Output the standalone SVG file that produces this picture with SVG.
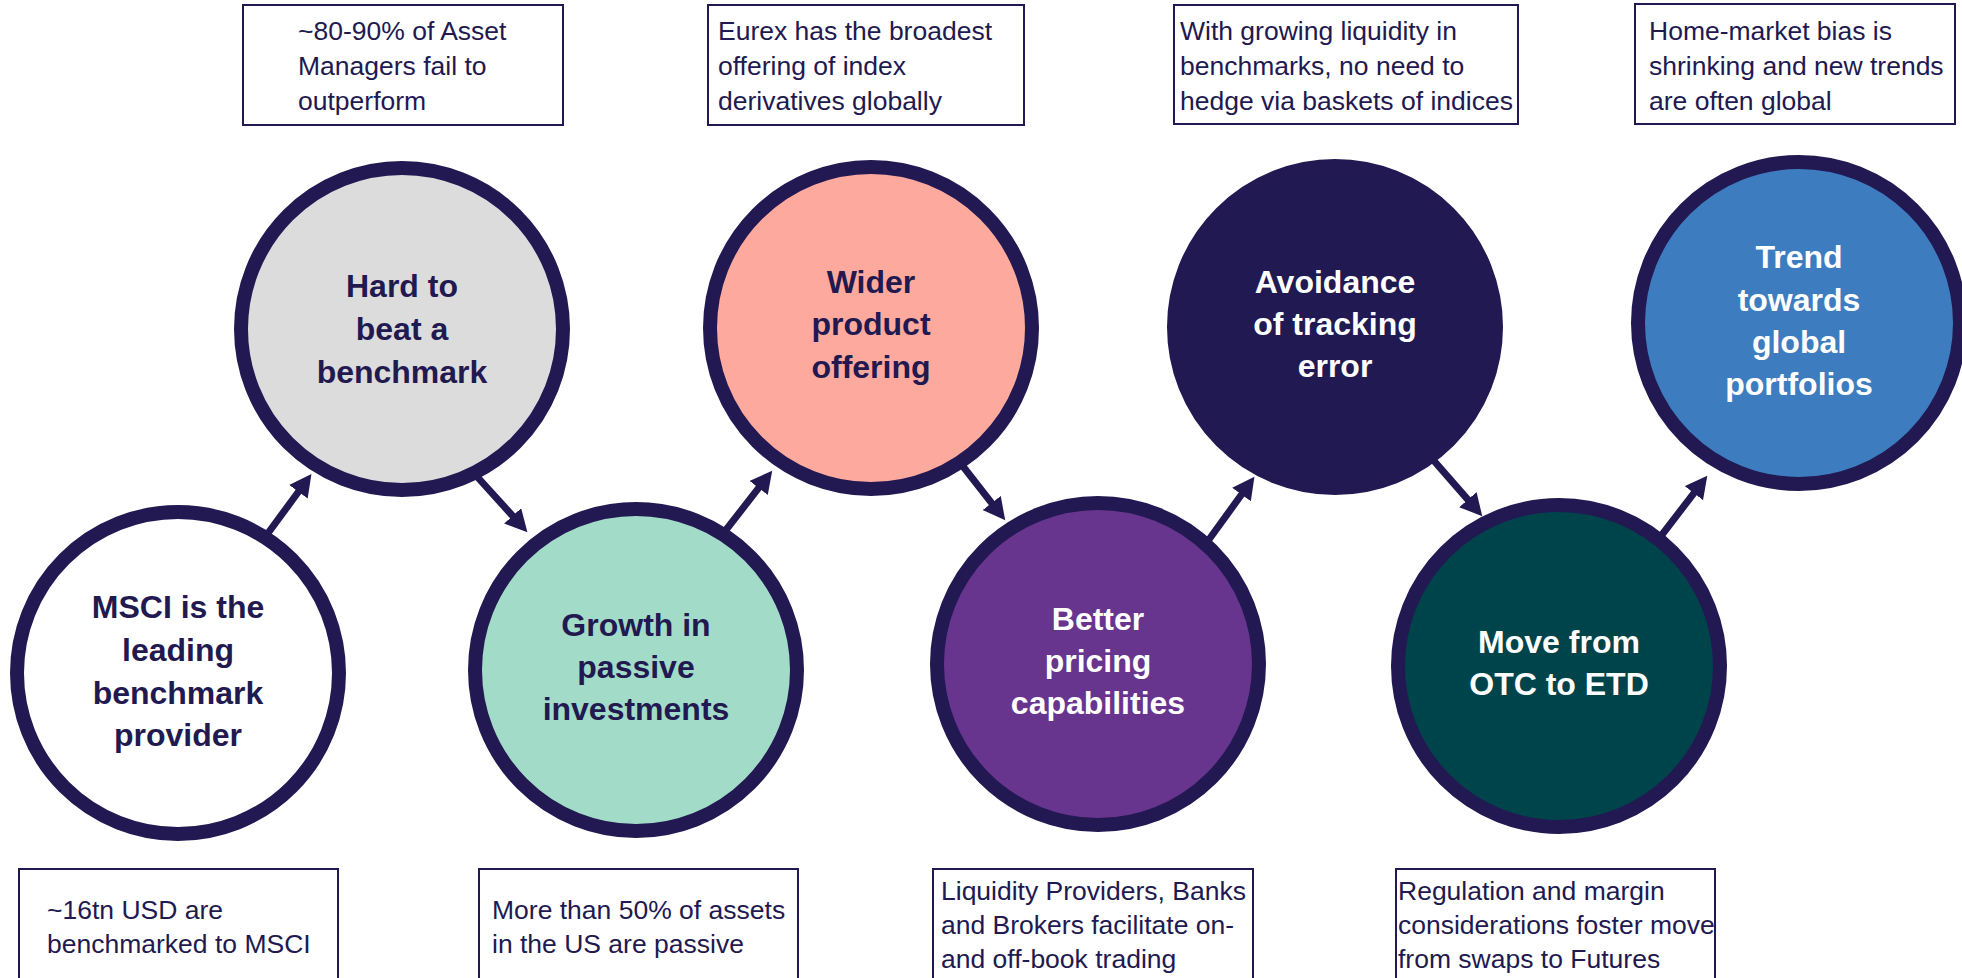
<svg xmlns="http://www.w3.org/2000/svg" width="1962" height="978" viewBox="0 0 1962 978">
<style>
.bg{fill:#ffffff}
.node{stroke:#221852;stroke-width:14}
.ct{font-family:"Liberation Sans",Arial,sans-serif;font-weight:bold;font-size:32px;text-anchor:middle}
.dk{fill:#21194f}
.wt{fill:#ffffff}
.box{fill:#ffffff;stroke:#221852;stroke-width:2}
.bt{font-family:"Liberation Sans",Arial,sans-serif;font-size:26.5px;fill:#21194f}
.conn{stroke:#221852;stroke-width:7;fill:none;marker-end:url(#ah)}
</style>
<defs>
<marker id="ah" markerUnits="userSpaceOnUse" markerWidth="24" markerHeight="24" refX="1" refY="11.5" orient="auto">
<path d="M0,0 L22,11.5 L0,23 Z" fill="#221852"/>
</marker>
</defs>
<rect class="bg" x="0" y="0" width="1962" height="978"/>

<g id="connectors">
<line class="conn" x1="263" y1="540" x2="299" y2="491"/>
<line class="conn" x1="471" y1="470" x2="513.3" y2="516.6"/>
<line class="conn" x1="722" y1="535" x2="759.3" y2="487.2"/>
<line class="conn" x1="958" y1="460" x2="992.3" y2="503.8"/>
<line class="conn" x1="1205" y1="545" x2="1242.1" y2="493.8"/>
<line class="conn" x1="1428" y1="454" x2="1468.5" y2="500.4"/>
<line class="conn" x1="1661" y1="536" x2="1694.5" y2="492.4"/>
</g>

<g id="node-msci">
<circle class="node" cx="178" cy="673" r="161" fill="#ffffff"/>
<text class="ct dk" x="178" y="618">MSCI is the</text>
<text class="ct dk" x="178" y="661">leading</text>
<text class="ct dk" x="178" y="704">benchmark</text>
<text class="ct dk" x="178" y="746">provider</text>
</g>

<g id="node-hard">
<circle class="node" cx="402" cy="329" r="161" fill="#dcdcdc"/>
<text class="ct dk" x="402" y="297">Hard to</text>
<text class="ct dk" x="402" y="340">beat a</text>
<text class="ct dk" x="402" y="383">benchmark</text>
</g>

<g id="node-growth">
<circle class="node" cx="636" cy="670" r="161" fill="#a2dcc9"/>
<text class="ct dk" x="636" y="636">Growth in</text>
<text class="ct dk" x="636" y="678">passive</text>
<text class="ct dk" x="636" y="720">investments</text>
</g>

<g id="node-wider">
<circle class="node" cx="871" cy="328" r="161" fill="#fea99d"/>
<text class="ct dk" x="871" y="293">Wider</text>
<text class="ct dk" x="871" y="335">product</text>
<text class="ct dk" x="871" y="378">offering</text>
</g>

<g id="node-pricing">
<circle class="node" cx="1098" cy="664" r="161" fill="#67358e"/>
<text class="ct wt" x="1098" y="630">Better</text>
<text class="ct wt" x="1098" y="672">pricing</text>
<text class="ct wt" x="1098" y="714">capabilities</text>
</g>

<g id="node-avoidance">
<circle class="node" cx="1335" cy="327" r="161" fill="#211951"/>
<text class="ct wt" x="1335" y="293">Avoidance</text>
<text class="ct wt" x="1335" y="335">of tracking</text>
<text class="ct wt" x="1335" y="377">error</text>
</g>

<g id="node-otc">
<circle class="node" cx="1559" cy="666" r="161" fill="#00444b"/>
<text class="ct wt" x="1559" y="653">Move from</text>
<text class="ct wt" x="1559" y="695">OTC to ETD</text>
</g>

<g id="node-global">
<circle class="node" cx="1799" cy="323" r="161" fill="#3d7dbf"/>
<text class="ct wt" x="1799" y="268">Trend</text>
<text class="ct wt" x="1799" y="311">towards</text>
<text class="ct wt" x="1799" y="353">global</text>
<text class="ct wt" x="1799" y="395">portfolios</text>
</g>

<g id="note-asset-managers">
<rect class="box" x="243" y="5" width="320" height="120"/>
<text class="bt" x="298" y="40">~80-90% of Asset</text>
<text class="bt" x="298" y="75">Managers fail to</text>
<text class="bt" x="298" y="110">outperform</text>
</g>

<g id="note-eurex">
<rect class="box" x="708" y="5" width="316" height="120"/>
<text class="bt" x="718" y="40">Eurex has the broadest</text>
<text class="bt" x="718" y="75">offering of index</text>
<text class="bt" x="718" y="110">derivatives globally</text>
</g>

<g id="note-liquidity">
<rect class="box" x="1174" y="5" width="344" height="119"/>
<text class="bt" x="1180" y="40">With growing liquidity in</text>
<text class="bt" x="1180" y="75">benchmarks, no need to</text>
<text class="bt" x="1180" y="110">hedge via baskets of indices</text>
</g>

<g id="note-home-market">
<rect class="box" x="1635" y="4" width="320" height="120"/>
<text class="bt" x="1649" y="40">Home-market bias is</text>
<text class="bt" x="1649" y="75">shrinking and new trends</text>
<text class="bt" x="1649" y="110">are often global</text>
</g>

<g id="note-msci">
<rect class="box" x="19" y="869" width="319" height="130"/>
<text class="bt" x="47" y="919">~16tn USD are</text>
<text class="bt" x="47" y="953">benchmarked to MSCI</text>
</g>

<g id="note-passive">
<rect class="box" x="479" y="869" width="319" height="130"/>
<text class="bt" x="492" y="919">More than 50% of assets</text>
<text class="bt" x="492" y="953">in the US are passive</text>
</g>

<g id="note-providers">
<rect class="box" x="933" y="869" width="320" height="130"/>
<text class="bt" x="941" y="900">Liquidity Providers, Banks</text>
<text class="bt" x="941" y="934">and Brokers facilitate on-</text>
<text class="bt" x="941" y="968">and off-book trading</text>
</g>

<g id="note-regulation">
<rect class="box" x="1396" y="869" width="319" height="130"/>
<text class="bt" x="1398" y="900">Regulation and margin</text>
<text class="bt" x="1398" y="934">considerations foster move</text>
<text class="bt" x="1398" y="968">from swaps to Futures</text>
</g>
</svg>
